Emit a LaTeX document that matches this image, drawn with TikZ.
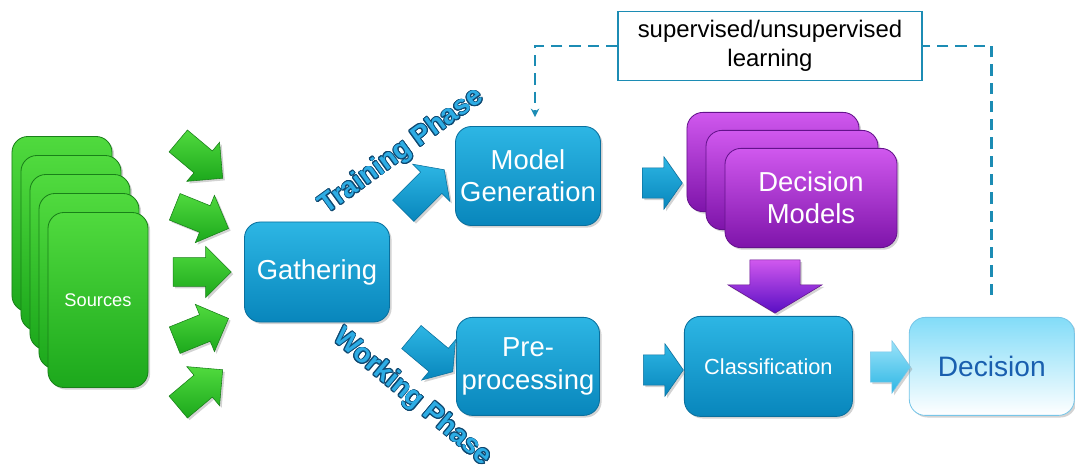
\documentclass[tikz,border=0pt]{standalone}
\usepackage{fontspec}
\setmainfont{Liberation Sans}
\usepackage[copies]{contour}
\contourlength{0.6pt}
\usetikzlibrary{calc, arrows.meta, positioning, shapes.arrows, shadows}
\definecolor{boxblue}{RGB}{45,182,228}
\definecolor{boxbluedark}{RGB}{8,134,188}
\definecolor{edgeblue}{RGB}{10,112,158}
\definecolor{srcgreen}{RGB}{80,218,62}
\definecolor{srcgreendark}{RGB}{28,168,28}
\definecolor{edgegreen}{RGB}{25,128,25}
\definecolor{dmpurple}{RGB}{208,88,238}
\definecolor{dmpurpledark}{RGB}{126,20,170}
\definecolor{edgepurple}{RGB}{100,18,140}
\definecolor{decicyan}{RGB}{130,220,248}
\definecolor{deciedge}{RGB}{120,198,232}
\definecolor{decitext}{RGB}{25,95,175}
\definecolor{fbteal}{RGB}{28,140,180}
\definecolor{phaseblue}{RGB}{45,172,228}
\definecolor{phaseedge}{RGB}{15,72,112}

\begin{document}
\begin{tikzpicture}[x=0.025cm, y=-0.025cm,
    bigtxt/.style={font=\fontsize{19.5}{23}\selectfont},
    shd/.style={drop shadow={shadow xshift=1.5pt, shadow yshift=-1.5pt, opacity=0.35}},
    blubox/.style={draw=edgeblue, line width=0.6pt, rounded corners=0.4cm, top color=boxblue,
                   bottom color=boxbluedark, text=white, align=center, shd, bigtxt},
    srcbox/.style={draw=edgegreen, line width=0.6pt, rounded corners=0.4cm, top color=srcgreen,
                   bottom color=srcgreendark, minimum width=2.5cm, minimum height=4.375cm,
                   text=white, shd, font=\fontsize{13}{15}\selectfont},
    dmbox/.style={draw=edgepurple, line width=0.6pt, rounded corners=0.4cm, top color=dmpurple,
                  bottom color=dmpurpledark, minimum width=4.3cm, minimum height=2.48cm,
                  text=white, align=center, shd, bigtxt},
    decbox/.style={draw=deciedge, line width=0.6pt, rounded corners=0.4cm, top color=decicyan,
                   bottom color=white, text=decitext, shd, font=\fontsize{20}{24}\selectfont},
    garrow/.style={single arrow, draw=edgegreen, top color=srcgreen, bottom color=srcgreendark,
                   minimum height=1.45cm, inner xsep=0pt, inner ysep=0.35cm,
                   single arrow head extend=0.28cm, shd},
    barrow/.style={single arrow, draw=edgeblue, top color=boxblue, bottom color=boxbluedark,
                   minimum height=1.0cm, inner xsep=0pt, inner ysep=0.37cm,
                   single arrow head extend=0.28cm, single arrow tip angle=110, shd},
    phase/.style={text=phaseblue, font=\bfseries\fontsize{19.5}{23}\selectfont},
    fb/.style={draw=fbteal, line width=2pt, dash pattern=on 8pt off 5pt}]

  \useasboundingbox (0,0) rectangle (1075,471);

  % sources
  \foreach \k in {4,3,2,1}
    \node[srcbox] (src\k) at ({98-9*\k},{300-19*\k}) {};
  \node[srcbox] (src) at (98,300) {Sources};
  \foreach \y/\a [count=\i] in {155/-40, 215/-22, 272/0, 332/22, 393/40}
    \node[garrow, rotate=\a] (g\i) at (195,\y) {};

  % main boxes
  \node[blubox, minimum width=3.625cm, minimum height=2.5cm] (gather) at (317,272) {Gathering};
  \node[blubox, minimum width=3.575cm, minimum height=2.475cm] (modgen) at (528,176) {Model\\Generation};
  \node[blubox, minimum width=3.575cm, minimum height=2.45cm, below=2.275cm of modgen]
                                   (preproc) {Pre-\\processing};
  \node[blubox, minimum width=4.2cm, minimum height=2.5cm, right=2.1cm of preproc,
        font=\fontsize{15.5}{18}\selectfont] (class) {Classification};
  \node[decbox, minimum width=4.125cm, minimum height=2.45cm, right=1.4cm of class] (decision) {Decision};

  % decision models
  \foreach \k in {2,1}
    \node[dmbox] (dm\k) at ({811-19*\k},{198-18*\k}) {};
  \node[dmbox] (dm) at (811,198) {Decision\\Models};

  % block arrows
  \node[barrow, minimum height=1.45cm, rotate=45] (a1) at (420,194) {};
  \node[barrow, minimum height=1.35cm, rotate=-40] (a2) at (428,351) {};
  \node[barrow] (a3) at (657,183) {};
  \node[barrow] (a4) at (658,370) {};
  \node[barrow, draw=deciedge, top color=decicyan!80, bottom color=boxblue] (a5) at (885,367) {};
  \node[single arrow, draw=edgepurple, top color=dmpurple, bottom color=dmpurpledark!70!blue,
        minimum height=1.33cm, inner xsep=0pt, inner ysep=0.62cm, single arrow head extend=0.55cm,
        single arrow tip angle=118, rotate=-90, shd] (a6) at (775,279) {};

  \node[phase, rotate=36] (train) at (402,152) {\contour{phaseedge}{Training Phase}};
  \node[phase, rotate=-40] (work) at (412,398) {\contour{phaseedge}{Working Phase}};

  % feedback
  \node[draw=fbteal, line width=1pt, fill=white, minimum width=7.6cm, minimum height=1.725cm,
        align=center, font=\fontsize{17}{20.5}\selectfont] (learn) at (770,46) {supervised/unsupervised\\learning};
  \draw[fb, -{Stealth[length=6pt, width=6pt]}] (learn.west) -| ([xshift=0.175cm, yshift=0.225cm]modgen.north);
  \draw[fb] ([yshift=0.55cm]decision.north) |- (learn.east);
\end{tikzpicture}
\end{document}
